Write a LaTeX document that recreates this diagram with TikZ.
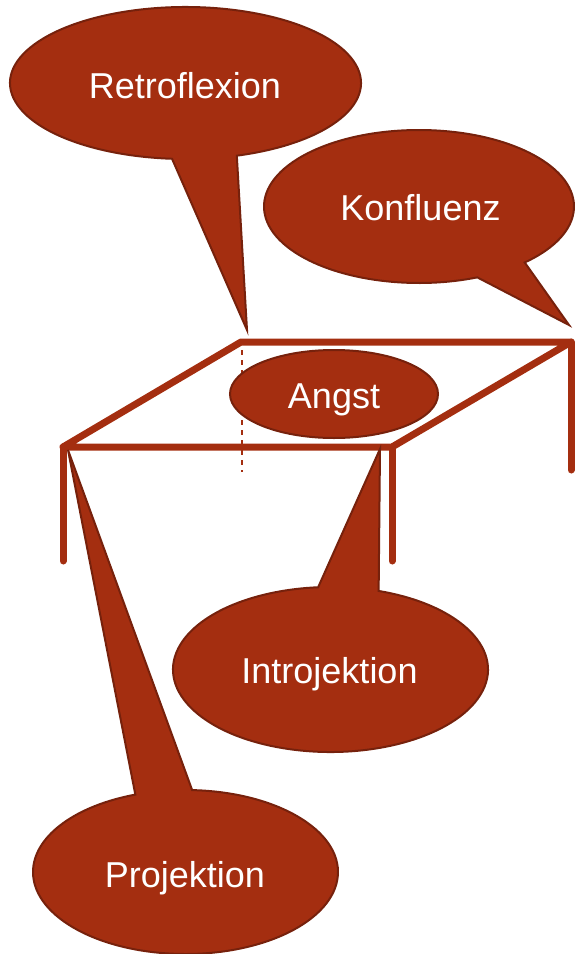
\documentclass[tikz,border=0pt]{standalone}
\usepackage{fontspec}
\setmainfont{Liberation Sans}
\definecolor{rust}{RGB}{164,46,16}
\definecolor{rustdark}{RGB}{118,33,12}
\begin{document}
\begin{tikzpicture}[x=1pt,y=-1pt,
  tableline/.style={draw=rust, line width=7pt, line cap=round, line join=round},
  hiddenline/.style={draw=rust, line width=1.8pt, dash pattern=on 5pt off 5pt},
  bubble/.style={fill=rust, draw=rustdark, line width=2pt, line join=miter},
  label/.style={text=white, font=\fontsize{36}{40}\selectfont, inner sep=0pt, anchor=base}]
\useasboundingbox (0,0) rectangle (574,954);

% table corners
\coordinate (bl) at (241,342);
\coordinate (br) at (571,342);
\coordinate (fl) at (63,447);
\coordinate (fr) at (392,447);
\coordinate (flleg) at (63,561);
\coordinate (frleg) at (392,561);
\coordinate (brleg) at (571,470);
\coordinate (hidtop) at (242,350);
\coordinate (hidbot) at (242,472);

% hidden back leg
\draw[hiddenline] (hidtop) -- (hidbot);
% table top and legs
\draw[tableline] (bl) -- (br) -- (fr) -- (fl) -- cycle;
\draw[tableline] (fl) -- (flleg);
\draw[tableline] (fr) -- (frleg);
\draw[tableline] (br) -- (brleg);

% centre ellipse
\draw[bubble] (334,394) ellipse [x radius=104, y radius=44];
\node[label] (angst) at (334,408) {Angst};

% speech bubbles: ellipse arc plus pointed tail
\draw[bubble] (185.5,83) ++(73:175.5 and 76)
  arc[start angle=73, end angle=-265.6, x radius=175.5, y radius=76]
  -- (247,330) -- cycle;
\node[label] (retro) at (185,98) {Retroflexion};

\draw[bubble] (419,206.5) ++(47:155 and 76.5)
  arc[start angle=47, end angle=-292.1, x radius=155, y radius=76.5]
  -- (569,325) -- cycle;
\node[label] (konf) at (420.5,220) {Konfluenz};

\draw[bubble] (330.5,669.5) ++(-72.2:157.5 and 82.5)
  arc[start angle=-72.2, end angle=265.5, x radius=157.5, y radius=82.5]
  -- (380,449) -- cycle;
\node[label] (intro) at (329.5,683) {Introjektion};

\draw[bubble] (185.5,872) ++(-87.5:152.5 and 82)
  arc[start angle=-87.5, end angle=250.8, x radius=152.5, y radius=82]
  -- (68,450) -- cycle;
\node[label] (proj) at (185,887) {Projektion};
\end{tikzpicture}
\end{document}
